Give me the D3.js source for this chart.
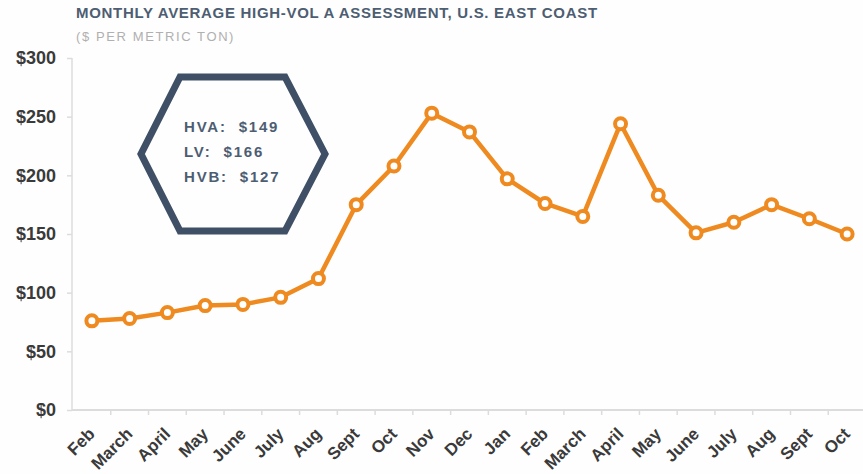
<!DOCTYPE html>
<html>
<head>
<meta charset="utf-8">
<script src="https://cdn.jsdelivr.net/npm/d3@7"></script>
<style>
  body { margin: 0; background: #fefefe; }
  svg { display: block; font-family: "Liberation Sans", Arial, sans-serif; }
</style>
</head>
<body>
<div id="chart"></div>
<script>
// data
const months = ["Feb", "March", "April", "May", "June", "July", "Aug", "Sept", "Oct", "Nov", "Dec",
                "Jan", "Feb", "March", "April", "May", "June", "July", "Aug", "Sept", "Oct"];
const prices = [76, 78, 83, 89, 90, 96, 112, 175, 208, 253, 237,
                197, 176, 165, 244, 183, 151, 160, 175, 163, 150];
const yTicks = [0, 50, 100, 150, 200, 250, 300];
const boxLines = ["HVA:  $149", "LV:  $166", "HVB:  $127"];

const W = 863, H = 474;
const x0 = 73, x1 = 866, yTop = 58, yBot = 410;

const svg = d3.select("#chart").append("svg")
  .attr("width", W).attr("height", H);

// keys so repeated month names stay separate bands
const keys = months.map((m, i) => i);
const x = d3.scaleBand().domain(keys).range([x0, x1]);
const y = d3.scaleLinear().domain([0, 300]).range([yBot, yTop]);

// title
svg.append("text")
  .attr("x", 76).attr("y", 18)
  .style("font-size", "15px").style("font-weight", "bold")
  .style("letter-spacing", "0.7px")
  .attr("fill", "#4d5d72")
  .text("MONTHLY AVERAGE HIGH-VOL A ASSESSMENT, U.S. EAST COAST");
svg.append("text")
  .attr("x", 76).attr("y", 41)
  .style("font-size", "13px").style("letter-spacing", "1.6px")
  .attr("fill", "#b0b0b0")
  .text("($ PER METRIC TON)");

// y axis
const yAxis = svg.append("g")
  .attr("transform", "translate(" + (x0 - 1) + ",0)")
  .call(d3.axisLeft(y).tickValues(yTicks).tickSize(5).tickPadding(11)
    .tickFormat(d => "$" + d));
yAxis.select(".domain").attr("stroke", "#dcdcdc").attr("stroke-width", 1.5)
  .attr("d", "M0," + yTop + "V" + yBot);
yAxis.selectAll(".tick line").attr("stroke", "#dcdcdc").attr("stroke-width", 1.5);
yAxis.selectAll(".tick text")
  .style("font-size", "18px").style("font-weight", "bold").attr("fill", "#3a3a3a");

// x axis, ticks at band edges
const xAxis = svg.append("g").attr("transform", "translate(0," + yBot + ")");
xAxis.append("line")
  .attr("x1", x0 - 1).attr("x2", W).attr("y1", 0).attr("y2", 0)
  .attr("stroke", "#dcdcdc").attr("stroke-width", 2);
xAxis.selectAll(".xt").data(keys.slice(1).concat([keys.length]))
  .enter().append("line")
  .attr("x1", d => x0 + d * x.step()).attr("x2", d => x0 + d * x.step())
  .attr("y1", 0).attr("y2", 5)
  .attr("stroke", "#dcdcdc").attr("stroke-width", 1.5);
xAxis.selectAll(".xl").data(keys).enter().append("text")
  .attr("transform", d => "translate(" + (x(d) + x.bandwidth() / 2 + 4) + ",25) rotate(-45)")
  .attr("text-anchor", "end")
  .style("font-size", "17px").style("font-weight", "bold")
  .attr("fill", "#3a3a3a")
  .text(d => months[d]);

// hexagon callout
const hex = [[180, 77], [285, 77], [325, 154], [285, 231], [180, 231], [141, 154]];
svg.append("path")
  .attr("d", d3.line()(hex) + "Z")
  .attr("fill", "none").attr("stroke", "#3e4f66").attr("stroke-width", 7)
  .attr("stroke-linejoin", "miter");
svg.append("g").selectAll("text").data(boxLines).enter().append("text")
  .attr("x", 184).attr("y", (d, i) => 132 + i * 25)
  .style("font-size", "15px").style("font-weight", "bold")
  .style("letter-spacing", "1.8px").style("white-space", "pre")
  .attr("fill", "#4d5d72")
  .text(d => d);

// line
const cx = i => x(i) + x.bandwidth() / 2;
svg.append("path")
  .datum(prices)
  .attr("fill", "none").attr("stroke", "#ee8a1f").attr("stroke-width", 4.5)
  .attr("stroke-linejoin", "round")
  .attr("d", d3.line().x((d, i) => cx(i)).y(d => y(d)));
svg.selectAll(".pt").data(prices).enter().append("circle")
  .attr("cx", (d, i) => cx(i)).attr("cy", d => y(d)).attr("r", 5.5)
  .attr("fill", "#fff").attr("stroke", "#ee8a1f").attr("stroke-width", 4);
</script>
</body>
</html>
